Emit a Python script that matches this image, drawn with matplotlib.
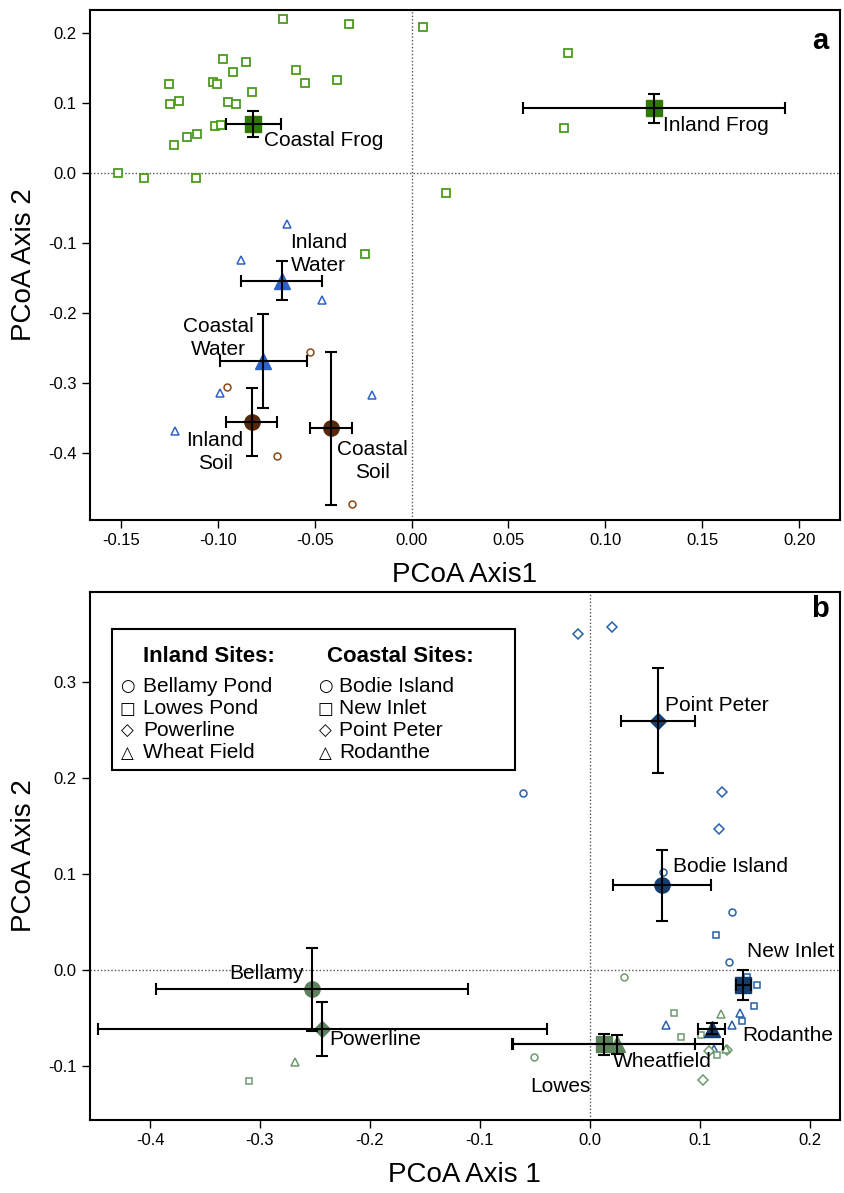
import numpy as np
import matplotlib
matplotlib.use("Agg")
import matplotlib.pyplot as plt

plt.rcParams['font.family'] = ['Liberation Sans', 'DejaVu Sans']

# ---------------- panel a data ----------------
frog_x = [-0.0662, -0.0323, 0.0060, -0.0972, -0.0853, -0.0920, -0.0595, -0.0548, -0.0383,
          -0.1250, -0.1023, -0.1006, -0.0822, -0.1202, -0.1245, -0.0947, -0.0908, -0.1013,
          -0.0982, -0.1160, -0.1109, -0.1224, -0.1515, -0.1379, -0.1112, 0.0177, 0.0809,
          0.0788, -0.0240]
frog_y = [0.2196, 0.2124, 0.2081, 0.1633, 0.1581, 0.1439, 0.1467, 0.1286, 0.1333,
          0.1271, 0.1304, 0.1271, 0.1153, 0.1033, 0.0981, 0.1014, 0.0981, 0.0667,
          0.0681, 0.0519, 0.0557, 0.0400, 0.0004, -0.0076, -0.0076, -0.0286, 0.1710,
          0.0639, -0.1161]
water_x = [-0.0641, -0.0880, -0.0461, -0.0989, -0.0203, -0.1221]
water_y = [-0.0729, -0.1247, -0.1810, -0.3139, -0.3171, -0.3686]
soil_x = [-0.0526, -0.0954, -0.0695, -0.0306]
soil_y = [-0.2557, -0.3062, -0.4048, -0.4733]

# group means (x, y, xerr, yerr)
a_groups = ['Coastal Frog', 'Inland Frog', 'Inland Water', 'Coastal Water', 'Inland Soil', 'Coastal Soil']
a_mx = [-0.0817, 0.1252, -0.0670, -0.0765, -0.0825, -0.0416]
a_my = [0.0700, 0.0924, -0.1538, -0.2686, -0.3557, -0.3648]
a_ex = [0.0141, 0.0675, 0.0210, 0.0223, 0.0130, 0.0110]
a_ey = [0.0190, 0.0205, 0.0280, 0.0667, 0.0490, 0.1088]
a_lab = ['Coastal Frog', 'Inland Frog', 'Inland\nWater', 'Coastal\nWater', 'Inland\nSoil', 'Coastal\nSoil']

# ---------------- panel b data ----------------
bodie_x = [0.0667, 0.1294, 0.1267, -0.0609]
bodie_y = [0.1018, 0.0608, 0.0083, 0.1844]
newinlet_x = [0.1148, 0.1424, 0.1521, 0.1494, 0.1385]
newinlet_y = [0.0372, -0.0069, -0.0153, -0.0368, -0.0524]
peter_x = [-0.0112, 0.0203, 0.1203, 0.1173]
peter_y = [0.3497, 0.3580, 0.1861, 0.1466]
rodanthe_x = [0.1361, 0.1294, 0.0694, 0.1124]
rodanthe_y = [-0.0441, -0.0569, -0.0569, -0.0819]

bellamy_x = [0.0309, -0.0506]
bellamy_y = [-0.0071, -0.0900]
lowes_x = [0.0764, 0.0830, 0.1006, 0.1157, -0.3097]
lowes_y = [-0.0448, -0.0698, -0.0670, -0.0878, -0.1150]
powerline_x = [0.1085, 0.1027, 0.1243]
powerline_y = [-0.0844, -0.1146, -0.0826]
wheat_x = [0.1194, 0.1236, -0.2685]
wheat_y = [-0.0455, -0.0819, -0.0960]

b_mx = [0.0615, 0.0657, 0.1394, 0.1106, -0.2529, -0.2432, 0.0127, 0.0248]
b_my = [0.2600, 0.0885, -0.0153, -0.0608, -0.0200, -0.0610, -0.0770, -0.0770]
b_ex = [0.0336, 0.0444, 0.0067, 0.0121, 0.1418, 0.2040, 0.0830, 0.0960]
b_ey = [0.0547, 0.0370, 0.0153, 0.0060, 0.0430, 0.0280, 0.0110, 0.0100]
b_lab = ['Point Peter', 'Bodie Island', 'New Inlet', 'Rodanthe', 'Bellamy', 'Powerline', 'Lowes', 'Wheatfield']

inland_sites = ['Bellamy Pond', 'Lowes Pond', 'Powerline', 'Wheat Field']
coastal_sites = ['Bodie Island', 'New Inlet', 'Point Peter', 'Rodanthe']

# ---------------- colors ----------------
frog_c, frog_cm = '#4c9a1c', '#2f7a07'
water_c = '#2d62c8'
soil_c, soil_cm = '#8b4a17', '#55290a'
coast_c, coast_cm = '#2860a8', '#143e70'
inl_c, inl_cm = '#6d9a6d', '#5c845c'

fig = plt.figure(figsize=(8.44, 11.93), dpi=100)
ax1 = fig.add_axes([0.1062, 0.5641, 0.889, 0.4275])
ax2 = fig.add_axes([0.1062, 0.0612, 0.889, 0.4426])


def style(ax):
    for s in ax.spines.values():
        s.set_linewidth(1.5)
    ax.tick_params(direction='out', length=6, width=1, top=False, right=False, labelsize=12)
    ax.axhline(0, color='#555555', lw=1, ls=(0, (1, 1.5)), zorder=0)
    ax.axvline(0, color='#555555', lw=1, ls=(0, (1, 1.5)), zorder=0)


# ---------------- panel a ----------------
ax1.plot(frog_x, frog_y, 's', ms=5.5, mfc='white', mec=frog_c, mew=1.3)
ax1.plot(water_x, water_y, '^', ms=6, mfc='white', mec=water_c, mew=1.1)
ax1.plot(soil_x, soil_y, 'o', ms=5, mfc='white', mec=soil_c, mew=1.1)

a_mark = ['s', 's', '^', '^', 'o', 'o']
a_col = [frog_cm, frog_cm, water_c, water_c, soil_cm, soil_cm]
for i in range(len(a_groups)):
    ax1.plot(a_mx[i], a_my[i], a_mark[i], ms=11, color=a_col[i], zorder=3)
    ax1.errorbar(a_mx[i], a_my[i], xerr=a_ex[i], yerr=a_ey[i], fmt='none',
                 ecolor='black', elinewidth=1.5, capsize=4, capthick=1.5, zorder=4)

a_txt = [(-0.0760, 0.046, 'left'), (0.1298, 0.0686, 'left'), (-0.0481, -0.1153, 'center'),
         (-0.0997, -0.2357, 'center'), (-0.1014, -0.3986, 'center'), (-0.0201, -0.4114, 'center')]
for (tx, ty, ha), lab in zip(a_txt, a_lab):
    ax1.text(tx, ty, lab, ha=ha, va='center', fontsize=15, linespacing=1.3)

ax1.set_xlim(-0.1661, 0.2210)
ax1.set_ylim(-0.4957, 0.2329)
ax1.set_xticks(np.arange(-0.15, 0.201, 0.05))
ax1.set_xticklabels(['-0.15', '-0.10', '-0.05', '0.00', '0.05', '0.10', '0.15', '0.20'])
ax1.set_yticks(np.arange(-0.4, 0.201, 0.1))
ax1.set_yticklabels(['-0.4', '-0.3', '-0.2', '-0.1', '0.0', '0.1', '0.2'])
style(ax1)
ax1.set_xlabel('PCoA Axis1', fontsize=20, labelpad=10)
ax1.set_ylabel('PCoA Axis 2', fontsize=20, labelpad=8)
ax1.text(0.985, 0.94, 'a', transform=ax1.transAxes, ha='right', va='center',
         fontsize=21, fontweight='bold')

# ---------------- panel b ----------------
ax2.plot(bodie_x, bodie_y, 'o', ms=5, mfc='white', mec=coast_c, mew=1.1)
ax2.plot(newinlet_x, newinlet_y, 's', ms=5, mfc='white', mec=coast_c, mew=1.1)
ax2.plot(peter_x, peter_y, 'D', ms=5, mfc='white', mec=coast_c, mew=1.1)
ax2.plot(rodanthe_x, rodanthe_y, '^', ms=6, mfc='white', mec=coast_c, mew=1.1)
ax2.plot(bellamy_x, bellamy_y, 'o', ms=5, mfc='white', mec=inl_c, mew=1.1)
ax2.plot(lowes_x, lowes_y, 's', ms=5, mfc='white', mec=inl_c, mew=1.1)
ax2.plot(powerline_x, powerline_y, 'D', ms=5, mfc='white', mec=inl_c, mew=1.1)
ax2.plot(wheat_x, wheat_y, '^', ms=6, mfc='white', mec=inl_c, mew=1.1)

b_mark = ['D', 'o', 's', '^', 'o', 'D', 's', '^']
b_size = [8, 11, 11, 11, 11, 8, 11, 11]
b_col = [coast_cm, coast_cm, coast_cm, coast_cm, inl_cm, inl_cm, inl_cm, inl_cm]
for i in range(len(b_lab)):
    ax2.plot(b_mx[i], b_my[i], b_mark[i], ms=b_size[i], color=b_col[i], zorder=3)
    ax2.errorbar(b_mx[i], b_my[i], xerr=b_ex[i], yerr=b_ey[i], fmt='none',
                 ecolor='black', elinewidth=1.5, capsize=4, capthick=1.5, zorder=4)

b_txt = [(0.068, 0.276, 'left'), (0.0757, 0.108, 'left'), (0.143, 0.019, 'left'),
         (0.1385, -0.068, 'left'), (-0.2604, -0.003, 'right'), (-0.237, -0.072, 'left'),
         (-0.0545, -0.121, 'left'), (0.0212, -0.095, 'left')]
for (tx, ty, ha), lab in zip(b_txt, b_lab):
    ax2.text(tx, ty, lab, ha=ha, va='center', fontsize=15)

ax2.set_xlim(-0.4549, 0.2273)
ax2.set_ylim(-0.156, 0.394)
ax2.set_xticks(np.arange(-0.4, 0.201, 0.1))
ax2.set_xticklabels(['-0.4', '-0.3', '-0.2', '-0.1', '0.0', '0.1', '0.2'])
ax2.set_yticks(np.arange(-0.1, 0.301, 0.1))
ax2.set_yticklabels(['-0.1', '0.0', '0.1', '0.2', '0.3'])
style(ax2)
ax2.set_xlabel('PCoA Axis 1', fontsize=20, labelpad=10)
ax2.set_ylabel('PCoA Axis 2', fontsize=20, labelpad=8)
ax2.text(0.985, 0.967, 'b', transform=ax2.transAxes, ha='right', va='center',
         fontsize=21, fontweight='bold')

# legend box (text based, like the original)
fig.patches.append(plt.Rectangle((111.7 / 844, 1 - 770 / 1193), (515 - 111.7) / 844,
                                 (770 - 629) / 1193, transform=fig.transFigure,
                                 fill=False, lw=1.5, ec='black', zorder=5))
fig.text(209 / 844, 1 - 656 / 1193, 'Inland Sites:', ha='center', va='center',
         fontsize=16, fontweight='bold')
fig.text(400.7 / 844, 1 - 656 / 1193, 'Coastal Sites:', ha='center', va='center',
         fontsize=16, fontweight='bold')
sym = ['\u25cb', '\u25a1', '\u25c7', '\u25b3']
rows = [686, 708.5, 731, 753]
for k in range(4):
    yy = 1 - rows[k] / 1193
    fig.text(127.3 / 844, yy, sym[k], ha='center', va='center', fontsize=12,
             family=['DejaVu Sans'])
    fig.text(143.3 / 844, yy, inland_sites[k], ha='left', va='center', fontsize=15)
    fig.text(325 / 844, yy, sym[k], ha='center', va='center', fontsize=12,
             family=['DejaVu Sans'])
    fig.text(339.3 / 844, yy, coastal_sites[k], ha='left', va='center', fontsize=15)

fig.savefig('out.png', dpi=100)
